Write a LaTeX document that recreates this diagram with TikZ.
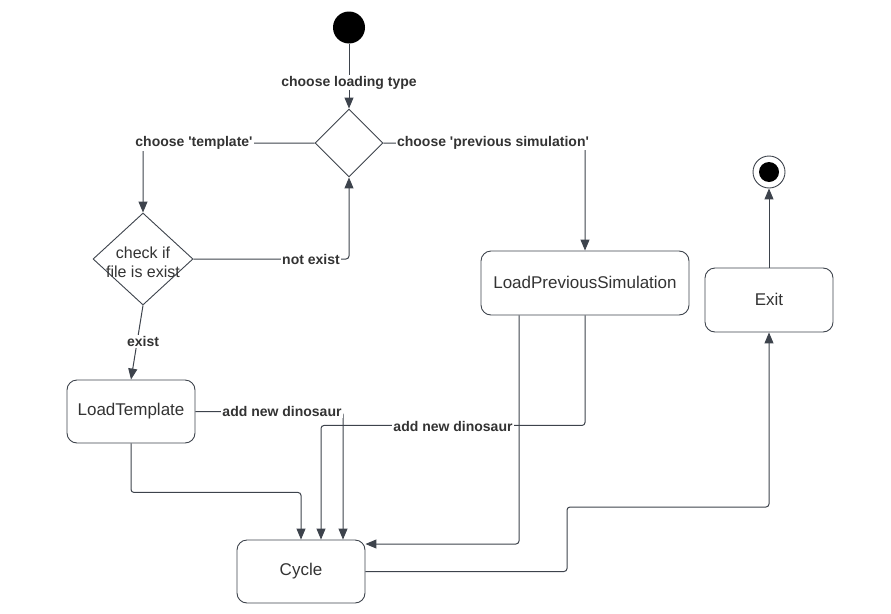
\documentclass[tikz,border=0pt]{standalone}
\usepackage{fontspec}
\setmainfont{Liberation Sans}
\usetikzlibrary{arrows.meta,shapes.geometric}
\definecolor{ln}{HTML}{3D434C}
\definecolor{tx}{HTML}{333333}

\begin{document}
\begin{tikzpicture}[x=1pt,y=-1pt,
  state/.style={draw=ln,line width=0.9pt,rounded corners=10pt,minimum width=128pt,
    minimum height=63pt,inner sep=0pt,text=tx,font=\fontsize{17}{20}\selectfont},
  choice/.style={draw=ln,line width=0.9pt,shape=diamond,inner sep=0pt,fill=white},
  flow/.style={draw=ln,line width=1pt,rounded corners=3pt,-{Triangle[length=11pt,width=9pt]}},
  tag/.style={fill=white,inner sep=1pt,text=tx,font=\bfseries\fontsize{14}{16}\selectfont}]

\useasboundingbox (0,0) rectangle (891,613);

% states and decisions
\node[circle,fill=black,minimum size=32pt,inner sep=0pt] (start) at (349,27.5) {};
\node[choice,minimum width=68pt,minimum height=68pt] (d1) at (349,143) {};
\node[choice,minimum width=100pt,minimum height=92pt,
  label={[align=center,text=tx,font=\fontsize{16}{19}\selectfont,yshift=-3pt]center:check if\\file is exist}] (d2) at (143,259) {};
\node[state] (lt) at (131,411.5) {LoadTemplate};
\node[state,minimum width=208pt,minimum height=64pt] (lps) at (585,283) {\raisebox{2pt}{LoadPreviousSimulation}};
\node[state] (cyc) at (301,571.5) {Cycle};
\node[state,minimum height=64pt] (ex) at (769,300) {\raisebox{2pt}{Exit}};
\node[circle,draw=ln,line width=0.9pt,minimum size=32pt,inner sep=0pt] (stop) at (769,172) {};
\node[circle,fill=black,minimum size=20pt,inner sep=0pt] (stopdot) at (stop.center) {};

\coordinate (j1) at (567,507);

% transitions
\draw[flow] (start) -- (d1);
\draw[flow] (d1.west) -| (d2.north);
\draw[flow] (d1.east) -| (lps.north);
\draw[flow] (d2.east) -| (d1.south);
\draw[flow] (d2.south) -- (lt.north);
\draw[flow] (lt.south) -- ++(0,49) -| (cyc.north);
\draw[flow] (lt.east) -| ([xshift=42pt]cyc.north);
\draw[flow] (lps.south) -- ++(0,110) -| ([xshift=20pt]cyc.north);
\draw[flow] ([xshift=-66pt]lps.south) |- ([yshift=27.5pt]cyc.east);
\draw[flow] (cyc.east) -| (j1) -| (ex.south);
\draw[flow] (ex.north) -- (stop);

% transition labels
\node[tag] (t1) at (349,82.5) {choose loading type};
\node[tag] (t2) at (194,143) {choose \textquotesingle template\textquotesingle};
\node[tag] (t3) at (493,142.5) {choose \textquotesingle previous simulation\textquotesingle};
\node[tag] (t4) at (311,259) {not exist};
\node[tag] (t5) at (143,341.5) {exist};
\node[tag] (t6) at (282,411.5) {add new dinosaur};
\node[tag] (t7) at (453,426.5) {add new dinosaur};
\end{tikzpicture}
\end{document}
